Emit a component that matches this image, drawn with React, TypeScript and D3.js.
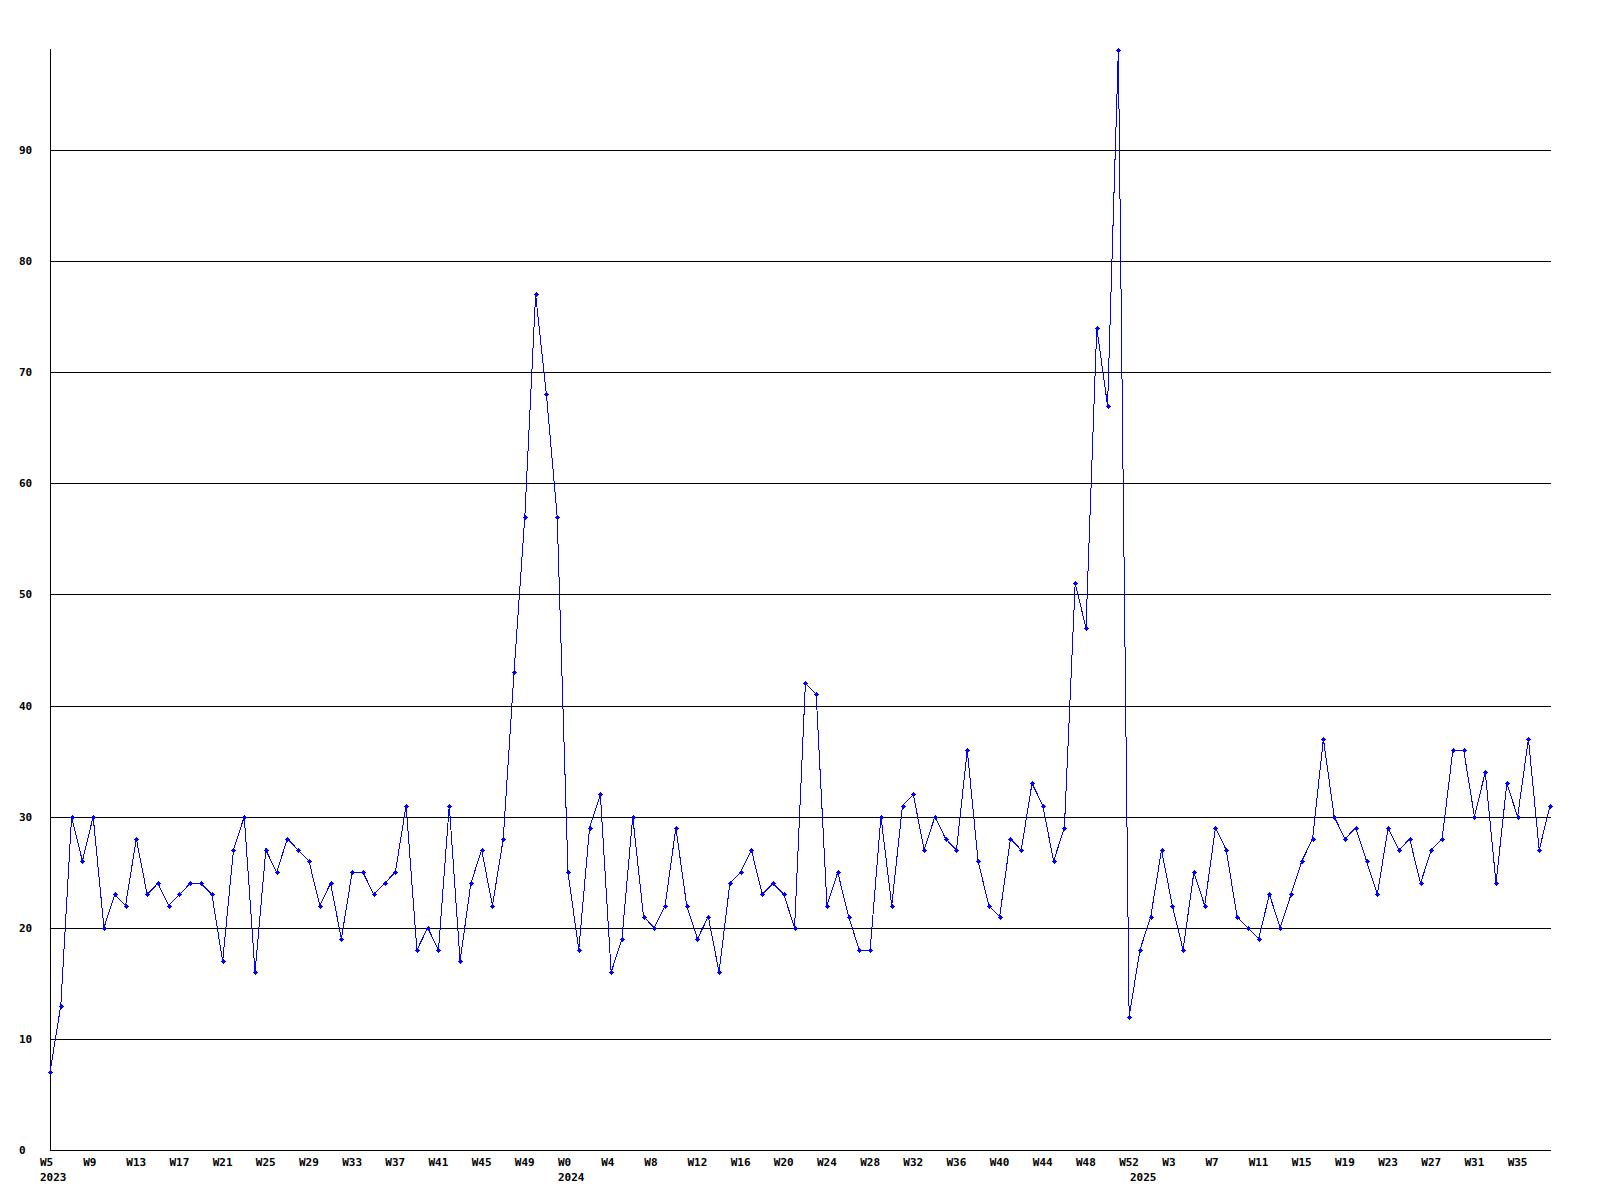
import React, { useEffect, useRef } from "react";
import * as d3 from "d3";

// weekly counts, W5 2023 .. W38 2025
const values: number[] = [
  7, 13, 30, 26, 30, 20, 23, 22, 28, 23,
  24, 22, 23, 24, 24, 23, 17, 27, 30, 16,
  27, 25, 28, 27, 26, 22, 24, 19, 25, 25,
  23, 24, 25, 31, 18, 20, 18, 31, 17, 24,
  27, 22, 28, 43, 57, 77, 68, 57, 25, 18,
  29, 32, 16, 19, 30, 21, 20, 22, 29, 22,
  19, 21, 16, 24, 25, 27, 23, 24, 23, 20,
  42, 41, 22, 25, 21, 18, 18, 30, 22, 31,
  32, 27, 30, 28, 27, 36, 26, 22, 21, 28,
  27, 33, 31, 26, 29, 51, 47, 74, 67, 99,
  12, 18, 21, 27, 22, 18, 25, 22, 29, 27,
  21, 20, 19, 23, 20, 23, 26, 28, 37, 30,
  28, 29, 26, 23, 29, 27, 28, 24, 27, 28,
  36, 36, 30, 34, 24, 33, 30, 37, 27, 31,
];

// one label every 4th week
const weekLabels: string[] = [
  "W5", "W9", "W13", "W17", "W21", "W25", "W29", "W33", "W37", "W41", "W45", "W49",
  "W0", "W4", "W8", "W12", "W16", "W20", "W24", "W28", "W32", "W36", "W40", "W44", "W48", "W52",
  "W3", "W7", "W11", "W15", "W19", "W23", "W27", "W31", "W35",
];

// year label and index of the first week of that year
const yearLabels: string[] = ["2023", "2024", "2025"];
const yearStarts: number[] = [0, 48, 101];

const yTicks: number[] = [0, 10, 20, 30, 40, 50, 60, 70, 80, 90];

const App: React.FC = () => {
  const svgRef = useRef<SVGSVGElement | null>(null);

  useEffect(() => {
    const width = 1600;
    const height = 1200;
    const margin = { top: 50, right: 49, bottom: 50, left: 50 };
    const font = "'DejaVu Sans Mono', 'Liberation Mono', monospace";

    const svg = d3.select(svgRef.current);
    svg.selectAll("*").remove();
    svg.attr("width", width).attr("height", height);

    const x = d3
      .scalePoint<number>()
      .domain(values.map((_, i) => i))
      .range([margin.left, width - 50]);

    const y = d3
      .scaleLinear()
      .domain([0, d3.max(values) || 0])
      .range([height - margin.bottom, margin.top]);

    // Gridlines
    svg
      .append("g")
      .attr("shape-rendering", "crispEdges")
      .selectAll("line")
      .data(yTicks.filter(d => d > 0))
      .join("line")
      .attr("x1", margin.left)
      .attr("x2", width - margin.right)
      .attr("y1", d => Math.round(y(d)) + 0.5)
      .attr("y2", d => Math.round(y(d)) + 0.5)
      .attr("stroke", "#000");

    // Axes
    svg
      .append("path")
      .attr("shape-rendering", "crispEdges")
      .attr("fill", "none")
      .attr("stroke", "#000")
      .attr(
        "d",
        `M${margin.left + 0.5},${margin.top - 1}V${height - margin.bottom + 0.5}H${width - margin.right}`
      );

    // Y labels
    svg
      .append("g")
      .selectAll("text")
      .data(yTicks)
      .join("text")
      .attr("x", 19)
      .attr("y", d => Math.round(y(d)) + 4)
      .attr("font-family", font)
      .attr("font-weight", "bold")
      .attr("font-size", "11px")
      .text(d => d);

    // X labels
    svg
      .append("g")
      .selectAll("text")
      .data(weekLabels)
      .join("text")
      .attr("x", (_, i) => x(i * 4)! - 10)
      .attr("y", height - margin.bottom + 16)
      .attr("font-family", font)
      .attr("font-weight", "bold")
      .attr("font-size", "11px")
      .text(d => d);

    svg
      .append("g")
      .selectAll("text")
      .data(yearLabels)
      .join("text")
      .attr("x", (_, i) => x(yearStarts[i])! - 10)
      .attr("y", height - margin.bottom + 31)
      .attr("font-family", font)
      .attr("font-weight", "bold")
      .attr("font-size", "11px")
      .text(d => d);

    // Line
    const line = d3
      .line<number>()
      .x((_, i) => x(i)!)
      .y(d => y(d));

    svg
      .append("path")
      .datum(values)
      .attr("fill", "none")
      .attr("stroke", "#0000ff")
      .attr("stroke-width", 1)
      .attr("shape-rendering", "crispEdges")
      .attr("d", line);

    // Markers
    const marks = svg.append("g").attr("fill", "#0000ff").attr("shape-rendering", "crispEdges");
    values.forEach((v, i) => {
      const cx = Math.round(x(i)!);
      const cy = Math.round(y(v));
      marks.append("rect").attr("x", cx - 2).attr("y", cy).attr("width", 5).attr("height", 1);
      marks.append("rect").attr("x", cx).attr("y", cy - 2).attr("width", 1).attr("height", 5);
      marks.append("rect").attr("x", cx - 1).attr("y", cy - 1).attr("width", 3).attr("height", 3);
    });
  }, []);

  return (
    <svg
      ref={svgRef}
      style={{ position: "absolute", left: 0, top: 0, background: "#fff" }}
    ></svg>
  );
};

export default App;
